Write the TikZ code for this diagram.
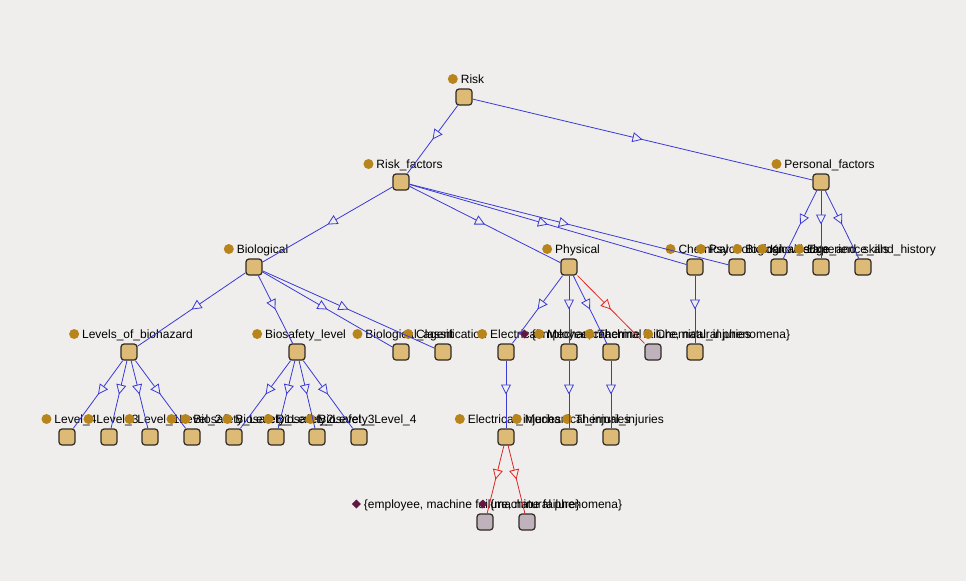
\documentclass[tikz,border=0pt]{standalone}
\usepackage{fontspec}
\setmainfont{Liberation Sans}
\usetikzlibrary{arrows.meta,decorations.markings}
\definecolor{bgc}{RGB}{239,238,236}
\definecolor{clsf}{RGB}{221,186,117}
\definecolor{anonf}{RGB}{192,178,188}
\definecolor{boxd}{RGB}{48,42,36}
\definecolor{dotc}{RGB}{184,132,28}
\definecolor{diac}{RGB}{96,24,64}
\definecolor{edgeb}{RGB}{58,58,214}
\definecolor{edger}{RGB}{226,36,36}
\newcommand\lbldot{\tikz[baseline={(0pt,-4pt)}]\fill[dotc] (0pt,0pt) circle[radius=5pt];\hspace{3pt}}
\newcommand\lbldia{\tikz[baseline={(0pt,-4pt)}]\fill[diac] (0pt,4.5pt)--(4.5pt,0pt)--(0pt,-4.5pt)--(-4.5pt,0pt)--cycle;\hspace{3pt}}
\tikzset{
  cls/.style={draw=boxd, fill=clsf, line width=1.2pt, rounded corners=3pt, minimum size=16pt, inner sep=0pt},
  anon/.style={cls, fill=anonf},
  lab/.style={anchor=base, inner sep=0pt, font=\fontsize{12}{14}\selectfont, text=black},
  isa/.style={draw=#1, line width=0.8pt, postaction={decorate},
    decoration={markings, mark=at position 0.5 with {\arrow{Triangle[open, length=10pt, width=10pt, fill=bgc]}}}},
  isa/.default=edgeb
}
\begin{document}
\begin{tikzpicture}[x=1pt,y=-1pt]
\fill[bgc] (0,0) rectangle (966,581);
\useasboundingbox (0,0) rectangle (966,581);
% boxes
\node[cls] (risk) at (464,97) {};
\node[cls] (rf) at (401,182) {};
\node[cls] (pf) at (821,182) {};
\node[cls] (bio) at (254,267) {};
\node[cls] (phy) at (569,267) {};
\node[cls] (chem) at (695,267) {};
\node[cls] (psy) at (737,267) {};
\node[cls] (bst) at (779,267) {};
\node[cls] (ks) at (821,267) {};
\node[cls] (eh) at (863,267) {};
\node[cls] (lob) at (129,352) {};
\node[cls] (bsl) at (297,352) {};
\node[cls] (bag) at (401,352) {};
\node[cls] (clf) at (443,352) {};
\node[cls] (ele) at (506,352) {};
\node[cls] (mec) at (569,352) {};
\node[cls] (the) at (611,352) {};
\node[anon] (ga) at (653,352) {};
\node[cls] (chi) at (695,352) {};
\node[cls] (l4) at (67,437) {};
\node[cls] (l3) at (109,437) {};
\node[cls] (l1) at (150,437) {};
\node[cls] (l2) at (192,437) {};
\node[cls] (b1) at (234,437) {};
\node[cls] (b2) at (276,437) {};
\node[cls] (b3) at (317,437) {};
\node[cls] (b4) at (359,437) {};
\node[cls] (eli) at (506,437) {};
\node[cls] (mei) at (569,437) {};
\node[cls] (thi) at (611,437) {};
\node[anon] (gb) at (485,522) {};
\node[anon] (gc) at (527,522) {};
% labels
\node[lab] (Lrisk) at ([shift={(2,-14)}]risk.center) {\lbldot Risk};
\node[lab] (Lrf) at ([shift={(2,-14)}]rf.center) {\lbldot Risk\_factors};
\node[lab] (Lpf) at ([shift={(2,-14)}]pf.center) {\lbldot Personal\_factors};
\node[lab] (Lbio) at ([shift={(2,-14)}]bio.center) {\lbldot Biological};
\node[lab] (Lphy) at ([shift={(2,-14)}]phy.center) {\lbldot Physical};
\node[lab] (Lchem) at ([shift={(2,-14)}]chem.center) {\lbldot Chemical};
\node[lab] (Lpsy) at ([shift={(2,-14)}]psy.center) {\lbldot Psychological};
\node[lab] (Lbst) at ([shift={(2,-14)}]bst.center) {\lbldot Biological\_state};
\node[lab] (Lks) at ([shift={(2,-14)}]ks.center) {\lbldot Knowledge\_and\_skills};
\node[lab] (Leh) at ([shift={(2,-14)}]eh.center) {\lbldot Experience\_and\_history};
\node[lab] (Llob) at ([shift={(2,-14)}]lob.center) {\lbldot Levels\_of\_biohazard};
\node[lab] (Lbsl) at ([shift={(2,-14)}]bsl.center) {\lbldot Biosafety\_level};
\node[lab] (Lbag) at ([shift={(2,-14)}]bag.center) {\lbldot Biological\_agent};
\node[lab] (Lclf) at ([shift={(2,-14)}]clf.center) {\lbldot Classification};
\node[lab] (Lele) at ([shift={(2,-14)}]ele.center) {\lbldot Electrical};
\node[lab] (Lga) at ([shift={(2,-14)}]ga.center) {\lbldia \{employee, machine failure, natural phenomena\}};
\node[lab] (Lmec) at ([shift={(2,-14)}]mec.center) {\lbldot Mechanical};
\node[lab] (Lthe) at ([shift={(2,-14)}]the.center) {\lbldot Thermal};
\node[lab] (Lchi) at ([shift={(2,-14)}]chi.center) {\lbldot Chemical\_injuries};
\node[lab] (Ll4) at ([shift={(2,-14)}]l4.center) {\lbldot Level\_4};
\node[lab] (Ll3) at ([shift={(2,-14)}]l3.center) {\lbldot Level\_3};
\node[lab] (Ll1) at ([shift={(2,-14)}]l1.center) {\lbldot Level\_1};
\node[lab] (Ll2) at ([shift={(2,-14)}]l2.center) {\lbldot Level\_2};
\node[lab] (Lb1) at ([shift={(2,-14)}]b1.center) {\lbldot Biosafety\_Level\_1};
\node[lab] (Lb2) at ([shift={(2,-14)}]b2.center) {\lbldot Biosafety\_Level\_2};
\node[lab] (Lb3) at ([shift={(2,-14)}]b3.center) {\lbldot Biosafety\_Level\_3};
\node[lab] (Lb4) at ([shift={(2,-14)}]b4.center) {\lbldot Biosafety\_Level\_4};
\node[lab] (Leli) at ([shift={(2,-14)}]eli.center) {\lbldot Electrical\_injuries};
\node[lab] (Lmei) at ([shift={(2,-14)}]mei.center) {\lbldot Mechanical\_injuries};
\node[lab] (Lthi) at ([shift={(2,-14)}]thi.center) {\lbldot Thermal\_injuries};
\node[lab] (Lgb) at ([shift={(2,-14)}]gb.center) {\lbldia \{employee, machine failure, natural phenomena\}};
\node[lab] (Lgc) at ([shift={(2,-14)}]gc.center) {\lbldia \{machine failure\}};
% edges
\draw[isa] (risk) -- (rf);
\draw[isa] (risk) -- (pf);
\draw[isa] (rf) -- (bio);
\draw[isa] (rf) -- (phy);
\draw[isa] (rf) -- (chem);
\draw[isa] (rf) -- (psy);
\draw[isa] (pf) -- (bst);
\draw[isa] (pf) -- (ks);
\draw[isa] (pf) -- (eh);
\draw[isa] (bio) -- (lob);
\draw[isa] (bio) -- (bsl);
\draw[isa] (bio) -- (bag);
\draw[isa] (bio) -- (clf);
\draw[isa] (phy) -- (ele);
\draw[isa] (phy) -- (mec);
\draw[isa] (phy) -- (the);
\draw[isa=edger] (phy) -- (ga);
\draw[isa] (chem) -- (chi);
\draw[isa] (lob) -- (l4);
\draw[isa] (lob) -- (l3);
\draw[isa] (lob) -- (l1);
\draw[isa] (lob) -- (l2);
\draw[isa] (bsl) -- (b1);
\draw[isa] (bsl) -- (b2);
\draw[isa] (bsl) -- (b3);
\draw[isa] (bsl) -- (b4);
\draw[isa] (ele) -- (eli);
\draw[isa] (mec) -- (mei);
\draw[isa] (the) -- (thi);
\draw[isa=edger] (eli) -- (gb);
\draw[isa=edger] (eli) -- (gc);
\end{tikzpicture}
\end{document}
